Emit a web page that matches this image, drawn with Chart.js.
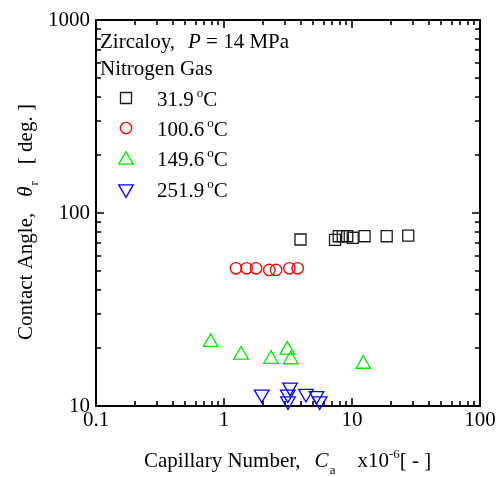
<!DOCTYPE html>
<html><head><meta charset="utf-8">
<script src="https://cdn.jsdelivr.net/npm/chart.js@4.4.0/dist/chart.umd.min.js"></script>
<style>html,body{margin:0;padding:0;background:#fff;}</style>
</head><body>
<canvas id="c" width="499" height="477"></canvas>
<script>
// ---- data ----
const xTicks = [0.1, 1, 10, 100];
const yTicks = [10, 100, 1000];
const seriesLabels = ['31.9', '100.6', '149.6', '251.9'];
const ca319  = [3.96, 7.37, 7.88, 8.47, 9.17, 10.14, 12.53, 18.67, 27.5];
const th319  = [72.9, 72.6, 75.8, 75.8, 75.8, 74.4, 75.8, 75.8, 76.4];
const ca1006 = [1.24, 1.50, 1.78, 2.26, 2.55, 3.24, 3.76];
const th1006 = [51.7, 51.7, 51.7, 50.7, 50.7, 51.7, 51.7];
const ca1496 = [0.787, 1.36, 2.33, 3.12, 3.32, 12.25];
const th1496 = [21.4, 18.4, 17.5, 19.5, 17.4, 16.5];
const ca2519 = [1.97, 3.28, 3.15, 3.16, 4.37, 5.28, 5.59];
const th2519 = [11.5, 12.5, 11.5, 10.6, 11.6, 11.3, 10.6];

const SERIF = "'Liberation Serif', 'Times New Roman', serif";
const styles = [
  {color: '#1a1a1a', pointStyle: 'rect', radius: 7.8, rotation: 0},
  {color: '#ff0000', pointStyle: 'circle', radius: 5.7, rotation: 0},
  {color: '#00e600', pointStyle: 'triangle', radius: 8.4, rotation: 0},
  {color: '#0000ff', pointStyle: 'triangle', radius: 8.4, rotation: 180}
];
const xs = [ca319, ca1006, ca1496, ca2519];
const ys = [th319, th1006, th1496, th2519];

const datasets = xs.map((arr, i) => ({
  label: seriesLabels[i],
  data: arr.map((v, j) => ({x: v, y: ys[i][j]})),
  showLine: false,
  clip: false,
  pointStyle: styles[i].pointStyle,
  pointRadius: styles[i].radius,
  pointRotation: styles[i].rotation,
  pointBorderColor: styles[i].color,
  pointBackgroundColor: 'rgba(0,0,0,0)',
  pointBorderWidth: 1.3
}));

function rich(ctx, x, y, parts, dry) {
  let cx = x;
  for (const p of parts) {
    ctx.font = p.f;
    cx += p.g || 0;
    if (!dry) ctx.fillText(p.t, cx, y + (p.dy || 0));
    cx += ctx.measureText(p.t).width;
  }
  return cx - x;
}

const REG = `21px ${SERIF}`;
const ITA = `italic 21px ${SERIF}`;
const SM = `13px ${SERIF}`;

const deco = {
  id: 'deco',
  beforeDatasetsDraw(chart) {
    const ctx = chart.ctx, a = chart.chartArea;
    const xs_ = chart.scales.x, ys_ = chart.scales.y;
    ctx.save();
    ctx.strokeStyle = '#000';
    ctx.lineWidth = 2;
    ctx.strokeRect(a.left, a.top, a.right - a.left, a.bottom - a.top);
    ctx.lineWidth = 1.6;
    ctx.beginPath();
    for (let d = 0.1; d < 100; d *= 10) {
      for (let m = 1; m <= 10; m++) {
        const v = d * m;
        const px = Math.round(xs_.getPixelForValue(v));
        const L = (m === 1 || m === 10) ? 8 : 5;
        ctx.moveTo(px, a.bottom); ctx.lineTo(px, a.bottom - L);
        ctx.moveTo(px, a.top); ctx.lineTo(px, a.top + L);
      }
    }
    for (let d = 10; d < 1000; d *= 10) {
      for (let m = 1; m <= 10; m++) {
        const v = d * m;
        const py = Math.round(ys_.getPixelForValue(v));
        const L = (m === 1 || m === 10) ? 8 : 5;
        ctx.moveTo(a.left, py); ctx.lineTo(a.left + L, py);
        ctx.moveTo(a.right, py); ctx.lineTo(a.right - L, py);
      }
    }
    ctx.stroke();
    ctx.restore();
  },
  afterDraw(chart) {
    const ctx = chart.ctx;
    ctx.save();
    ctx.fillStyle = '#000';
    ctx.textBaseline = 'alphabetic';
    ctx.textAlign = 'left';
    // x axis title
    const xt = [
      {t: 'Capillary Number,', f: REG},
      {t: 'C', f: ITA, g: 14},
      {t: 'a', f: SM, g: 1, dy: 7},
      {t: 'x10', f: REG, g: 22},
      {t: '-6', f: SM, dy: -9},
      {t: '[ - ]', f: REG}
    ];
    rich(ctx, 144, 467, xt);
    // y axis title (rotated)
    const yt = [
      {t: 'Contact Angle,', f: REG},
      {t: '\u03B8', f: ITA, g: 16},
      {t: 'r', f: SM, g: 1, dy: 6},
      {t: '[ deg. ]', f: REG, g: 17}
    ];
    const yw = rich(ctx, 0, 0, yt, true);
    ctx.save();
    ctx.translate(32, 222 + yw / 2);
    ctx.rotate(-Math.PI / 2);
    rich(ctx, 0, 0, yt);
    ctx.restore();
    // legend / annotation
    rich(ctx, 100, 48, [
      {t: 'Zircaloy,', f: REG},
      {t: 'P', f: ITA, g: 13},
      {t: ' = 14 MPa', f: REG}
    ]);
    rich(ctx, 100, 75, [{t: 'Nitrogen Gas', f: REG}]);
    const markY = [98, 128, 160, 189];
    const textY = [106, 136, 166, 197];
    seriesLabels.forEach((lab, i) => {
      ctx.save();
      ctx.strokeStyle = styles[i].color;
      ctx.fillStyle = 'rgba(0,0,0,0)';
      ctx.lineWidth = 1.3;
      Chart.helpers.drawPoint(ctx, {
        pointStyle: styles[i].pointStyle,
        radius: styles[i].radius,
        rotation: styles[i].rotation,
        borderWidth: 1.3
      }, 126, markY[i]);
      ctx.restore();
      rich(ctx, 157, textY[i], [
        {t: lab, f: REG},
        {t: 'o', f: SM, g: 3, dy: -9},
        {t: 'C', f: REG}
      ]);
    });
    ctx.restore();
  }
};

new Chart(document.getElementById('c'), {
  type: 'scatter',
  data: {datasets},
  plugins: [deco],
  options: {
    responsive: false,
    animation: false,
    devicePixelRatio: 1,
    layout: {padding: {left: 0, top: 20, right: 19, bottom: 0}},
    plugins: {legend: {display: false}, tooltip: {enabled: false}},
    scales: {
      x: {
        type: 'logarithmic', min: 0.1, max: 100,
        grid: {display: false, drawTicks: false},
        border: {display: false},
        ticks: {
          font: {family: SERIF, size: 21}, color: '#000', padding: 2,
          maxRotation: 0, autoSkip: false,
          callback: (v) => String(v)
        },
        afterBuildTicks: (s) => { s.ticks = xTicks.map(v => ({value: v})); },
        afterFit: (s) => { s.height = 71; s.paddingLeft = 0; s.paddingRight = 0; }
      },
      y: {
        type: 'logarithmic', min: 10, max: 1000,
        grid: {display: false, drawTicks: false},
        border: {display: false},
        ticks: {
          font: {family: SERIF, size: 21}, color: '#000', padding: 6,
          autoSkip: false,
          callback: (v) => String(v)
        },
        afterBuildTicks: (s) => { s.ticks = yTicks.map(v => ({value: v})); },
        afterFit: (s) => { s.width = 96; s.paddingTop = 0; s.paddingBottom = 0; }
      }
    }
  }
});
</script>
</body></html>
